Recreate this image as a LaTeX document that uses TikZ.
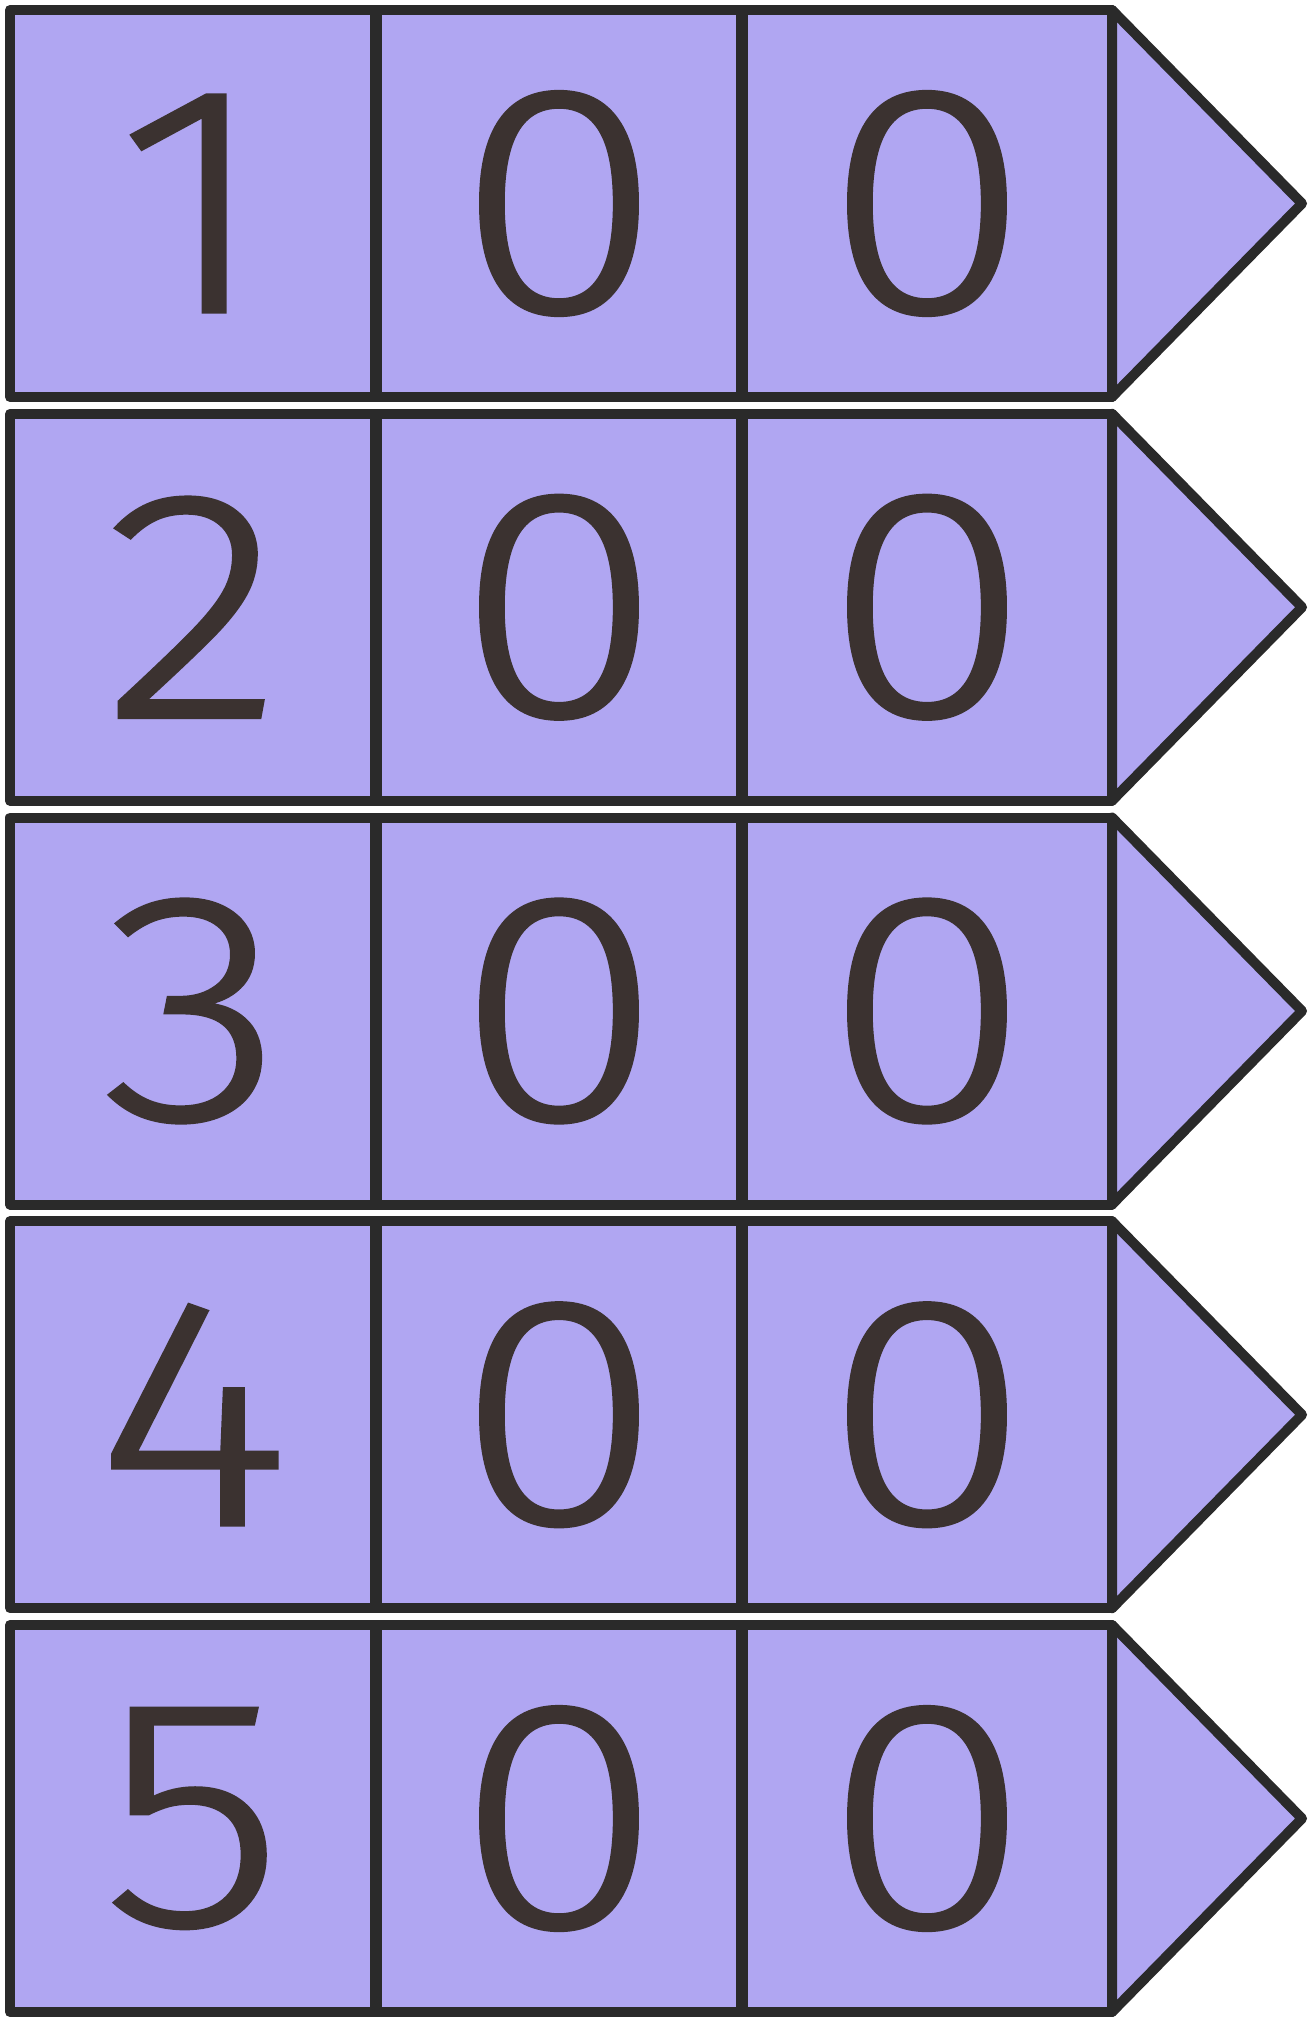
\documentclass[tikz,border=0pt]{standalone}
\usepackage{fontspec}
\setmainfont{Fira Sans}[UprightFont=* Light,FakeStretch=1.15,FakeBold=1]
\definecolor{cellfill}{HTML}{B0A6F2}
\definecolor{edgecol}{HTML}{2A2A2A}
\definecolor{digitcol}{HTML}{3B3230}
\begin{document}
\begin{tikzpicture}[x=1pt,y=-1pt,
  rowbox/.style={fill=cellfill,draw=edgecol,line width=10pt,line join=round},
  divider/.style={draw=edgecol,line width=12pt},
  digitlabel/.style={text=digitcol,font=\fontsize{326}{326}\selectfont,inner sep=0pt}]
\useasboundingbox (0,0) rectangle (1309,2017);
\foreach \d [count=\i from 0] in {1,...,5} {
  \pgfmathsetmacro\rtop{10+403.75*\i}
  \pgfmathsetmacro\rbot{\rtop+387}
  \pgfmathsetmacro\rmid{(\rtop+\rbot)/2}
  \draw[rowbox] (10,\rtop) rectangle (1112,\rbot);
  \draw[rowbox] (1112,\rtop) -- (1302,\rmid) -- (1112,\rbot) -- cycle;
  \draw[divider] (376,\rtop) -- (376,\rbot);
  \draw[divider] (742,\rtop) -- (742,\rbot);
  \node[digitlabel] (h\d) at (193,\rmid) {\d};
  \node[digitlabel] (t\d) at (559,\rmid) {0};
  \node[digitlabel] (u\d) at (927,\rmid) {0};
}
\end{tikzpicture}
\end{document}
